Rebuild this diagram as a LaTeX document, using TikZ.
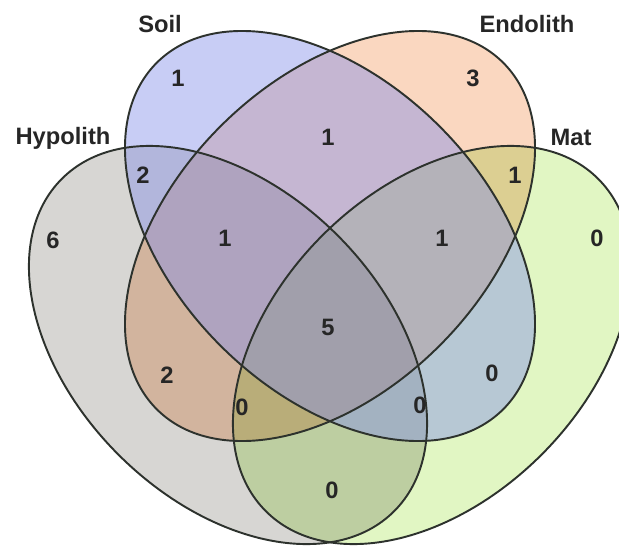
\documentclass[tikz,border=0pt]{standalone}
\usepackage{fontspec}
\setmainfont{Liberation Sans}
\setsansfont{Liberation Sans}
\definecolor{soilcol}{RGB}{133,144,233}
\definecolor{endocol}{RGB}{250,215,192}
\definecolor{hypocol}{RGB}{215,214,211}
\definecolor{matcol}{RGB}{225,246,195}
\definecolor{rimcol}{RGB}{45,50,45}
\begin{document}
\begin{tikzpicture}[x=0.02cm, y=0.02cm, font=\sffamily\bfseries\fontsize{13.5}{16}\selectfont,
	rim/.style={draw=rimcol, line width=1.1pt},
	setlabel/.style={inner sep=0pt, text=black!85},
	count/.style={inner sep=0pt, text=black!85}]
	\useasboundingbox (0,0) rectangle (619,556);
	\clip (0,0) rectangle (619,556);
	
	% Flaechen: Hypolith, Mat, Endolith multipliziert
	\begin{scope}[blend group=multiply]
		\fill[hypocol, rotate around={-45:(228,211)}] (228,211) ellipse (235 and 155);
		\fill[matcol, rotate around={45:(432,211)}] (432,211) ellipse (235 and 155);
		\fill[endocol, rotate around={45:(330,320)}] (330,320) ellipse (245 and 155);
	\end{scope}
	% Soil halbtransparent obenauf
	\fill[soilcol, fill opacity=0.45, rotate around={-45:(330,320)}] (330,320) ellipse (245 and 155);
	
	% Umrisse
	\draw[rim, rotate around={-45:(228,211)}] (228,211) ellipse (235 and 155);
	\draw[rim, rotate around={45:(432,211)}] (432,211) ellipse (235 and 155);
	\draw[rim, rotate around={45:(330,320)}] (330,320) ellipse (245 and 155);
	\draw[rim, rotate around={-45:(330,320)}] (330,320) ellipse (245 and 155);
	
	% Mengennamen
	\node[setlabel] (soil) at (160,532) {Soil};
	\node[setlabel] (endolith) at (527,532) {Endolith};
	\node[setlabel] (hypolith) at (63,418) {Hypolith};
	\node[setlabel] (mat) at (571,419) {Mat};
	
	% Anzahlen
	\node[count] (s) at (178,478) {1};
	\node[count] (e) at (473,478) {3};
	\node[count] (h) at (53,316) {6};
	\node[count] (m) at (597,318) {0};
	\node[count] (se) at (328,419) {1};
	\node[count] (sh) at (143,381) {2};
	\node[count] (em) at (515,381) {1};
	\node[count] (seh) at (225,318) {1};
	\node[count] (sem) at (442,318) {1};
	\node[count] (sehm) at (328,229) {5};
	\node[count] (eh) at (167,181) {2};
	\node[count] (sm) at (492,183) {0};
	\node[count] (ehm) at (242,149) {0};
	\node[count] (shm) at (420,151) {0};
	\node[count] (hm) at (332,66) {0};
\end{tikzpicture}
\end{document}
